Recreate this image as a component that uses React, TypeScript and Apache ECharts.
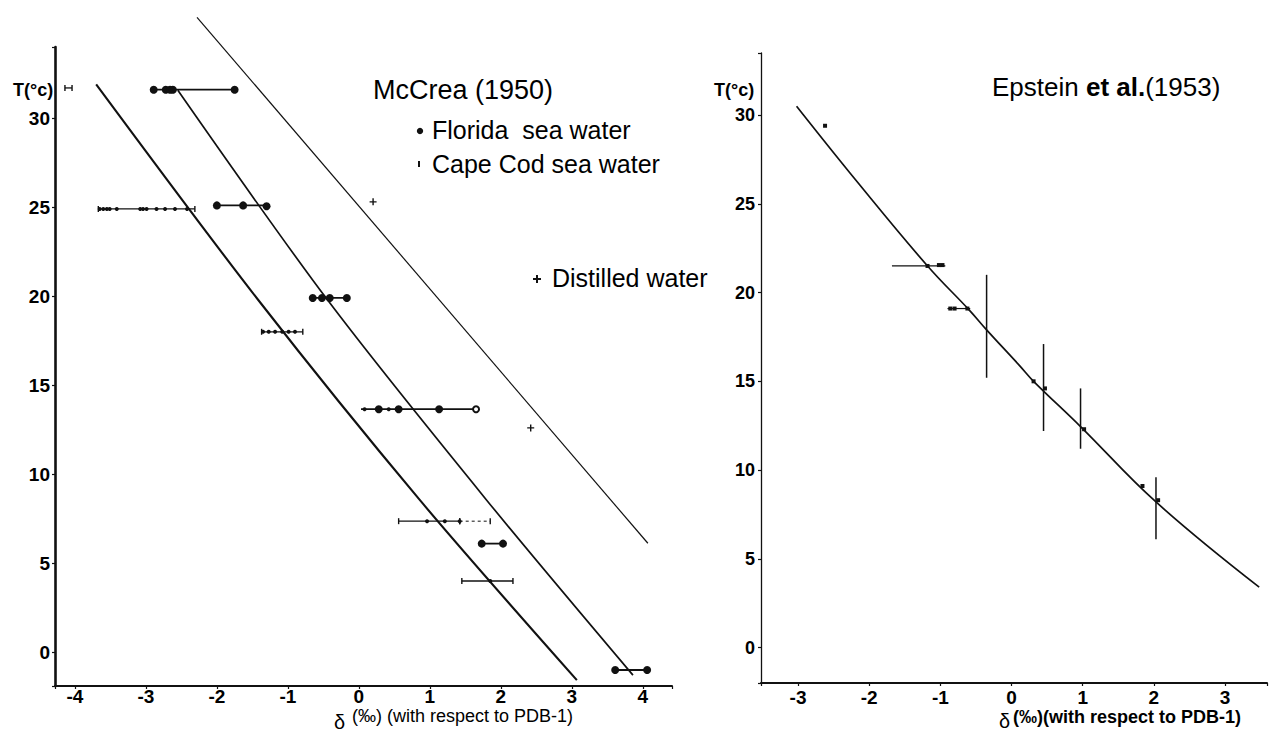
import { useEffect, useRef } from 'react';
import * as echarts from 'echarts';

// ---------- Left panel: McCrea (1950) ----------
// three calibration lines [delta, T]
const mcCreaLineA = [[-3.70, 31.9], [-1.42, 19.8], [0.86, 8.54], [3.07, -1.57]];
const mcCreaLineB = [[-2.55, 31.57], [-0.44, 19.78], [1.80, 8.54], [3.86, -1.29]];
const mcCreaLineC = [[-2.28, 35.67], [4.07, 6.12]];

// [deltaFrom, deltaTo, T]
const floridaRanges = [
  [-2.89, -1.75, 31.6], [-2.0, -1.3, 25.1], [-0.65, -0.17, 19.9],
  [0.03, 1.65, 13.65], [1.73, 2.03, 6.1], [3.61, 4.06, -1.0],
];
const floridaPoints = [
  [-2.89, 31.6], [-2.72, 31.6], [-2.66, 31.6], [-2.62, 31.6], [-1.75, 31.6],
  [-2.0, 25.1], [-1.63, 25.1], [-1.3, 25.05],
  [-0.65, 19.9], [-0.52, 19.9], [-0.41, 19.9], [-0.17, 19.9],
  [0.28, 13.65], [0.56, 13.65], [1.13, 13.65],
  [1.73, 6.1], [2.03, 6.1],
  [3.61, -1.0], [4.06, -1.0],
];
const floridaOpenPoints = [[1.65, 13.65]];

const capeCodRanges = [
  [-4.14, -4.04, 31.7], [-3.67, -2.31, 24.9], [-1.37, -0.79, 18.0],
  [0.56, 1.42, 7.36], [1.45, 2.17, 4.0],
];
const capeCodDottedRanges = [[1.42, 1.85, 7.36]];
const capeCodPoints = [
  [-3.65, 24.9], [-3.6, 24.9], [-3.55, 24.9], [-3.51, 24.9], [-3.41, 24.9],
  [-3.08, 24.9], [-3.04, 24.9], [-2.99, 24.9], [-2.85, 24.9], [-2.73, 24.9],
  [-2.59, 24.9], [-2.42, 24.9],
  [-1.35, 18.0], [-1.27, 18.0], [-1.18, 18.0], [-1.08, 18.0], [-0.99, 18.0], [-0.9, 18.0],
  [0.08, 13.65], [0.42, 13.65],
  [0.96, 7.36], [1.21, 7.36], [1.42, 7.36],
  [1.85, 4.0],
];
const distilledPoints = [[0.2, 25.3], [2.42, 12.6]];

// ---------- Right panel: Epstein et al. (1953) ----------
const epsteinCurve = [
  [-3.02, 30.5], [-2.16, 26.2], [-1.18, 21.5], [-0.59, 19.0], [-0.35, 17.9],
  [0.11, 15.9], [0.31, 15.0], [0.97, 12.45], [2.03, 8.2], [3.48, 3.4],
];
// [deltaFrom, deltaTo, T]
const epsteinXBars = [[-1.68, -0.93, 21.5], [-0.9, -0.58, 19.1]];
// [delta, Tfrom, Tto]
const epsteinYBars = [[-0.35, 21.0, 15.2], [0.45, 17.1, 12.2], [0.97, 14.6, 11.2], [2.03, 9.6, 6.1]];
const epsteinPoints = [
  [-2.62, 29.4], [-1.18, 21.5], [-1.02, 21.55], [-0.97, 21.55],
  [-0.86, 19.1], [-0.8, 19.1], [-0.62, 19.1],
  [0.31, 15.0], [0.47, 14.6], [1.02, 12.3], [1.84, 9.1], [2.06, 8.3],
];

const INK = '#111111';
const FONT = 'Liberation Sans, Arial, sans-serif';

const hRangeSeries = (name: string, data: number[][], gi: number, width: number, caps: boolean, dashed = false) => ({
  type: 'custom',
  name,
  xAxisIndex: gi,
  yAxisIndex: gi,
  data,
  encode: { x: [0, 1], y: 2 },
  renderItem: (_p: any, api: any) => {
    const a = api.coord([api.value(0), api.value(2)]);
    const b = api.coord([api.value(1), api.value(2)]);
    const children: any[] = [
      {
        type: 'line',
        shape: { x1: a[0], y1: a[1], x2: b[0], y2: b[1] },
        style: { stroke: INK, lineWidth: width, lineDash: dashed ? [3, 3] : null },
      },
    ];
    if (caps) {
      children.push({ type: 'line', shape: { x1: a[0], y1: a[1] - 3, x2: a[0], y2: a[1] + 3 }, style: { stroke: INK, lineWidth: 1.4 } });
      children.push({ type: 'line', shape: { x1: b[0], y1: b[1] - 3, x2: b[0], y2: b[1] + 3 }, style: { stroke: INK, lineWidth: 1.4 } });
    }
    return { type: 'group', children };
  },
  z: 3,
});

const vRangeSeries = (name: string, data: number[][], gi: number, width: number) => ({
  type: 'custom',
  name,
  xAxisIndex: gi,
  yAxisIndex: gi,
  data,
  encode: { x: 0, y: [1, 2] },
  renderItem: (_p: any, api: any) => {
    const a = api.coord([api.value(0), api.value(1)]);
    const b = api.coord([api.value(0), api.value(2)]);
    return {
      type: 'line',
      shape: { x1: a[0], y1: a[1], x2: b[0], y2: b[1] },
      style: { stroke: INK, lineWidth: width },
    };
  },
  z: 3,
});

const intLabel = (step: number) => (v: number) =>
  Math.abs(v - Math.round(v)) < 1e-6 && Math.round(v) % step === 0 ? String(Math.round(v)) : '';

const PLUS = 'path://M4,0H6V4H10V6H6V10H4V6H0V4H4Z';

export default function App() {
  const ref = useRef<HTMLDivElement>(null);
  useEffect(() => {
    if (!ref.current) return;
    const chart = echarts.init(ref.current, undefined, { renderer: 'svg' });
    const axisCommon = {
      type: 'value',
      splitLine: { show: false },
      axisTick: { show: true, length: 3, lineStyle: { color: INK, width: 1.2 } },
    };
    const solid = { color: INK, opacity: 1 };
    const option: any = {
      animation: false,
      backgroundColor: '#ffffff',
      grid: [
        { left: 55, right: 598, top: 47, bottom: 49 },
        { left: 761, right: 2, top: 53, bottom: 52 },
      ],
      xAxis: [
        {
          ...axisCommon, gridIndex: 0, min: -4.28, max: 4.41, splitNumber: 8,
          axisLine: { onZero: false, lineStyle: { color: INK, width: 2 } },
          axisLabel: { formatter: intLabel(1), color: '#000', fontSize: 19, fontWeight: 'bold', fontFamily: FONT, margin: 1, lineHeight: 19 },
        },
        {
          ...axisCommon, gridIndex: 1, min: -3.52, max: 3.59, splitNumber: 7,
          axisLine: { onZero: false, lineStyle: { color: INK, width: 2 } },
          axisLabel: { formatter: intLabel(1), color: '#000', fontSize: 19, fontWeight: 'bold', fontFamily: FONT, margin: 5, lineHeight: 19 },
        },
      ],
      yAxis: [
        {
          ...axisCommon, gridIndex: 0, min: -1.9, max: 34, splitNumber: 7,
          axisLine: { onZero: false, lineStyle: { color: INK, width: 2.6 } },
          axisLabel: { formatter: intLabel(5), color: '#000', fontSize: 19, fontWeight: 'bold', fontFamily: FONT, margin: 5 },
        },
        {
          ...axisCommon, gridIndex: 1, min: -2, max: 33.5, splitNumber: 7,
          axisLine: { onZero: false, lineStyle: { color: INK, width: 1.3 } },
          axisLabel: { formatter: intLabel(5), color: '#000', fontSize: 18, fontWeight: 'bold', fontFamily: FONT, margin: 6 },
        },
      ],
      series: [
        { type: 'line', name: 'McCrea line A', xAxisIndex: 0, yAxisIndex: 0, data: mcCreaLineA, smooth: 0.3, symbol: 'none', lineStyle: { color: INK, width: 2.1 }, z: 2 },
        { type: 'line', name: 'McCrea line B', xAxisIndex: 0, yAxisIndex: 0, data: mcCreaLineB, smooth: 0.3, symbol: 'none', lineStyle: { color: INK, width: 1.7 }, z: 2 },
        { type: 'line', name: 'McCrea line C', xAxisIndex: 0, yAxisIndex: 0, data: mcCreaLineC, symbol: 'none', clip: false, lineStyle: { color: INK, width: 1.2 }, z: 2 },
        hRangeSeries('Florida ranges', floridaRanges, 0, 1.8, false),
        hRangeSeries('Cape Cod ranges', capeCodRanges, 0, 1.3, true),
        hRangeSeries('Cape Cod dotted', capeCodDottedRanges, 0, 1.0, true, true),
        { type: 'scatter', name: 'Florida sea water', xAxisIndex: 0, yAxisIndex: 0, data: floridaPoints, symbol: 'circle', symbolSize: 8, itemStyle: solid, z: 4 },
        { type: 'scatter', name: 'Florida open', xAxisIndex: 0, yAxisIndex: 0, data: floridaOpenPoints, symbol: 'emptyCircle', symbolSize: 6, itemStyle: { color: INK, borderColor: INK, borderWidth: 1.8, opacity: 1 }, z: 4 },
        { type: 'scatter', name: 'Cape Cod sea water', xAxisIndex: 0, yAxisIndex: 0, data: capeCodPoints, symbol: 'circle', symbolSize: 4, itemStyle: solid, z: 4 },
        { type: 'scatter', name: 'Distilled water', xAxisIndex: 0, yAxisIndex: 0, data: distilledPoints, symbol: PLUS, symbolSize: 7, itemStyle: solid, z: 4 },
        { type: 'line', name: 'Epstein curve', xAxisIndex: 1, yAxisIndex: 1, data: epsteinCurve, smooth: 0.4, symbol: 'none', lineStyle: { color: INK, width: 1.7 }, z: 2 },
        hRangeSeries('Epstein horizontal bars', epsteinXBars, 1, 1.2, false),
        vRangeSeries('Epstein vertical bars', epsteinYBars, 1, 1.5),
        { type: 'scatter', name: 'Epstein points', xAxisIndex: 1, yAxisIndex: 1, data: epsteinPoints, symbol: 'rect', symbolSize: 4, itemStyle: solid, z: 4 },
      ],
      graphic: [
        { type: 'text', x: 13, y: 90, style: { text: 'T(°c)', font: `bold 18px ${FONT}`, fill: '#000', verticalAlign: 'middle' } },
        { type: 'text', x: 714, y: 90, style: { text: 'T(°c)', font: `bold 18px ${FONT}`, fill: '#000', verticalAlign: 'middle' } },
        { type: 'text', x: 373, y: 90, style: { text: 'McCrea (1950)', font: `27px ${FONT}`, fill: '#000', verticalAlign: 'middle' } },
        { type: 'circle', shape: { cx: 420, cy: 131, r: 3.2 }, style: { fill: INK } },
        { type: 'text', x: 432, y: 130, style: { text: 'Florida  sea water', font: `25px ${FONT}`, fill: '#000', verticalAlign: 'middle' } },
        { type: 'rect', shape: { x: 418, y: 161, width: 2, height: 6 }, style: { fill: INK } },
        { type: 'text', x: 432, y: 164, style: { text: 'Cape Cod sea water', font: `25px ${FONT}`, fill: '#000', verticalAlign: 'middle' } },
        { type: 'rect', shape: { x: 533, y: 278, width: 8, height: 2 }, style: { fill: INK } },
        { type: 'rect', shape: { x: 536, y: 275, width: 2, height: 8 }, style: { fill: INK } },
        { type: 'text', x: 552, y: 278, style: { text: 'Distilled water', font: `25px ${FONT}`, fill: '#000', verticalAlign: 'middle' } },
        {
          type: 'text', x: 992, y: 87,
          style: {
            text: '{a|Epstein }{b|et al.}{a|(1953)}',
            verticalAlign: 'middle',
            rich: {
              a: { font: `26px ${FONT}`, fill: '#000' },
              b: { font: `bold 26px ${FONT}`, fill: '#000' },
            },
          },
        },
        { type: 'text', x: 334, y: 722, style: { text: 'δ', font: `20px ${FONT}`, fill: '#000', verticalAlign: 'middle', lineHeight: 20 } },
        { type: 'text', x: 352, y: 716, style: { text: '(‰) (with respect to PDB-1)', font: `18px ${FONT}`, fill: '#000', verticalAlign: 'middle', lineHeight: 18 } },
        { type: 'text', x: 999, y: 721, style: { text: 'δ', font: `20px ${FONT}`, fill: '#000', verticalAlign: 'middle', lineHeight: 20 } },
        { type: 'text', x: 1013, y: 717, style: { text: '(‰)(with respect to PDB-1)', font: `bold 18px ${FONT}`, fill: '#000', verticalAlign: 'middle', lineHeight: 18 } },
      ],
    };
    chart.setOption(option);
    return () => chart.dispose();
  }, []);
  return (
    <div
      ref={ref}
      style={{ position: 'absolute', left: 0, top: 0, width: 1270, height: 735, background: '#fff' }}
    />
  );
}
